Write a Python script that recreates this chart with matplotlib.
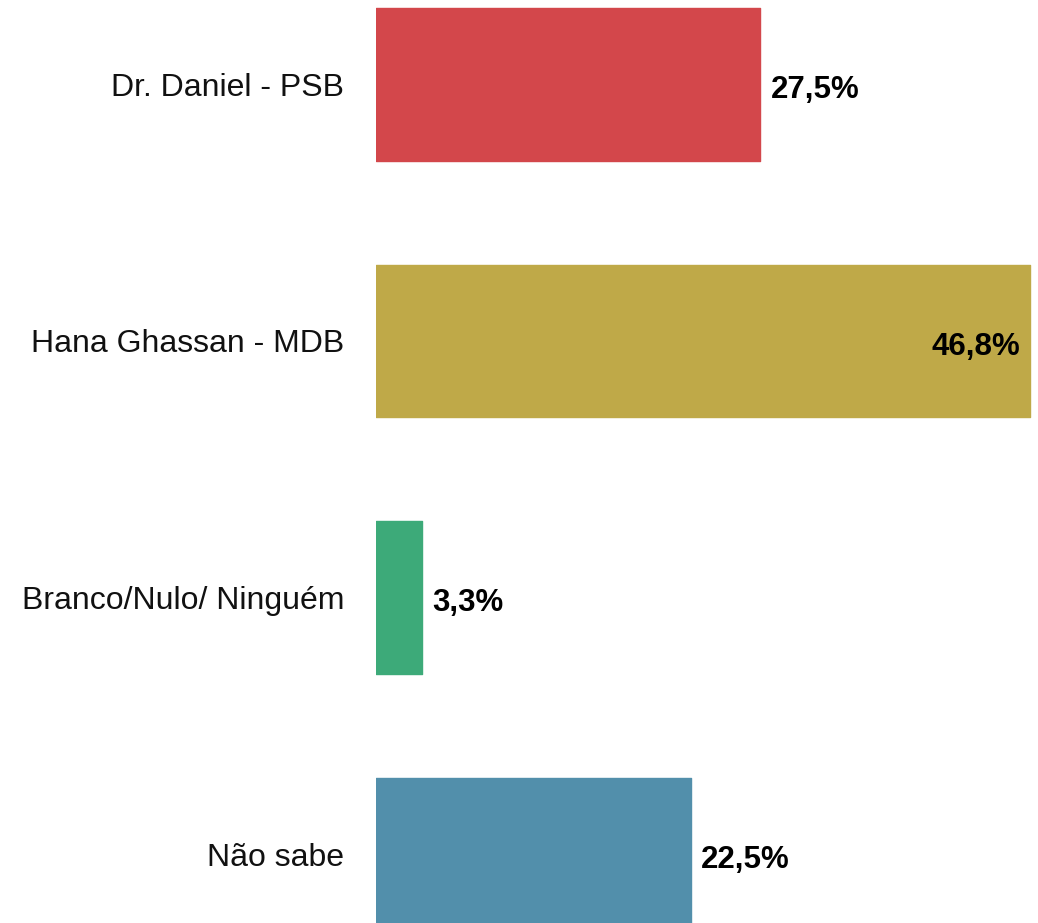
import matplotlib
matplotlib.use("Agg")
import matplotlib.pyplot as plt

categories = ["Dr. Daniel - PSB", "Hana Ghassan - MDB", "Branco/Nulo/ Ninguém", "Não sabe"]
values = [27.5, 46.8, 3.3, 22.5]
colors = ["#D3474B", "#BFA948", "#3DAA79", "#528FAB"]
labels = ["27,5%", "46,8%", "3,3%", "22,5%"]

plt.rcParams["font.family"] = ["Liberation Sans", "DejaVu Sans"]

fig = plt.figure(figsize=(10.38, 9.23), dpi=100)
ax = fig.add_axes([376 / 1038, 0, 662 / 1038, 1])

y = list(range(len(categories)))
ax.barh(y, values, height=0.595, color=colors, edgecolor=colors,
        linewidth=1.0, joinstyle="round")

vmax = max(values)
for yi, v, lab in zip(y, values, labels):
    if v == vmax:
        # biggest bar gets its label inside
        ax.annotate(lab, (v, yi), xytext=(-10, -6), textcoords="offset pixels",
                    ha="right", va="center", fontsize=22.5, fontweight="bold")
    else:
        ax.annotate(lab, (v, yi), xytext=(10, -6), textcoords="offset pixels",
                    ha="left", va="center", fontsize=22.5, fontweight="bold")

ax.set_xlim(0, 47.35)
ax.set_ylim(3.269, -0.3294)
ax.set_yticks(y)
ax.set_yticklabels(categories, fontsize=23, color="#111111")
ax.tick_params(axis="y", length=0, pad=23)
ax.set_xticks([])
for s in ax.spines.values():
    s.set_visible(False)

fig.savefig("out.png", dpi=100)
